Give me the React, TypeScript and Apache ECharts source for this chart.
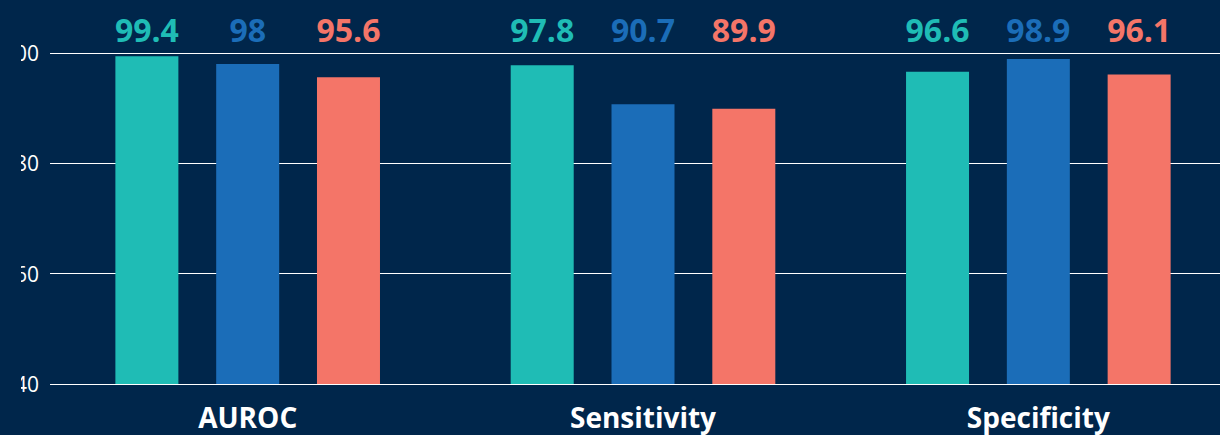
import React, { useEffect, useRef } from "react";
import * as echarts from "echarts";

const categories = ["AUROC", "Sensitivity", "Specificity"];
const seriesNames = ["Model A", "Model B", "Model C"];
const valuesA = [99.4, 97.8, 96.6];
const valuesB = [98, 90.7, 98.9];
const valuesC = [95.6, 89.9, 96.1];
const yMin = 40;
const yMax = 100;
const yInterval = 20;

const BG = "#00264b";
const COLORS = ["#1fbcb5", "#1b6db8", "#f47568"];

export default function App() {
  const ref = useRef<HTMLDivElement>(null);

  useEffect(() => {
    if (!ref.current) return;
    const chart = echarts.init(ref.current, undefined, { renderer: "svg" });
    const all = [valuesA, valuesB, valuesC];
    const series: any[] = [];
    all.forEach((vals, i) => {
      series.push({
        name: seriesNames[i],
        type: "bar",
        stack: "s" + i,
        barWidth: 63,
        barGap: "60%",
        silent: true,
        itemStyle: { color: COLORS[i] },
        data: vals,
      });
      series.push({
        name: seriesNames[i] + " label",
        type: "bar",
        stack: "s" + i,
        barWidth: 63,
        barGap: "60%",
        silent: true,
        itemStyle: { color: "rgba(0,0,0,0)" },
        label: {
          show: true,
          position: "top",
          distance: 8,
          color: COLORS[i],
          fontFamily: "Open Sans",
          fontWeight: "bold",
          fontSize: 32,
          formatter: (p: any) => String(vals[p.dataIndex]),
        },
        data: vals.map((v) => yMax - v),
      });
    });

    chart.setOption({
      animation: false,
      backgroundColor: BG,
      grid: { left: 48, right: 4, top: 53, bottom: 51, containLabel: false },
      xAxis: {
        type: "category",
        data: categories,
        axisLine: { show: false },
        axisTick: { show: false },
        axisLabel: {
          color: "#ffffff",
          fontFamily: "Open Sans",
          fontWeight: "bold",
          fontSize: 28,
          margin: 19,
        },
      },
      yAxis: {
        type: "value",
        min: yMin,
        max: yMax,
        interval: yInterval,
        axisLine: { show: false },
        axisTick: { show: false },
        splitLine: { lineStyle: { color: "#ffffff", width: 1 } },
        axisLabel: {
          color: "#ffffff",
          fontFamily: "Open Sans",
          fontSize: 21,
          margin: 11,
          padding: [6, 0, 0, 0],
        },
      },
      series,
    });
    return () => chart.dispose();
  }, []);

  return (
    <div
      style={{
        position: "fixed",
        left: 0,
        top: 0,
        width: 1220,
        height: 435,
        overflow: "hidden",
        background: BG,
      }}
    >
      <div
        ref={ref}
        style={{ position: "absolute", left: 0, top: 0, width: 1240, height: 435 }}
      />
      <div
        style={{
          position: "absolute",
          left: 0,
          top: 0,
          width: 21,
          height: 435,
          background: BG,
        }}
      />
    </div>
  );
}
